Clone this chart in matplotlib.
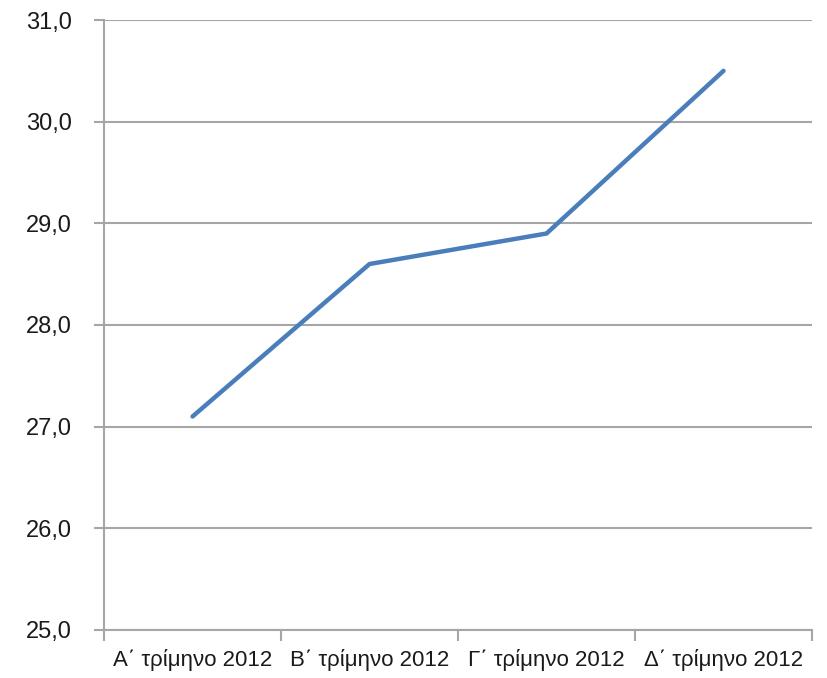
import numpy as np
import matplotlib.pyplot as plt

quarters = ["Α΄ τρίμηνο 2012", "Β΄ τρίμηνο 2012", "Γ΄ τρίμηνο 2012", "Δ΄ τρίμηνο 2012"]
values = [27.1, 28.6, 28.9, 30.5]
y_ticks = [25, 26, 27, 28, 29, 30, 31]

grey = "#a6a6a6"

fig = plt.figure(figsize=(8.27, 6.78), dpi=100)
ax = fig.add_axes([0.1258, 0.0708, 0.8561, 0.8997])

x = np.arange(len(quarters))
ax.plot(x, values, color="#4a7ebb", linewidth=3.2, solid_capstyle="round")

ax.set_xlim(-0.5, len(quarters) - 0.5)
ax.set_ylim(25, 31)
ax.set_yticks(y_ticks)
ax.set_yticklabels([f"{v:.1f}".replace(".", ",") for v in y_ticks])
ax.yaxis.grid(True, color=grey, linewidth=1.5)
ax.set_axisbelow(True)

ax.set_xticks(x)
ax.set_xticklabels(quarters)
ax.set_xticks(np.arange(len(quarters) + 1) - 0.5, minor=True)
ax.tick_params(axis="x", which="major", length=0, pad=14)
ax.tick_params(axis="x", which="minor", length=8, width=1.5, color=grey)
ax.tick_params(axis="y", length=7, width=1.5, color=grey, pad=16)

for side in ["top", "right"]:
    ax.spines[side].set_visible(False)
for side in ["left", "bottom"]:
    ax.spines[side].set_color(grey)
    ax.spines[side].set_linewidth(1.5)

for lab in ax.get_xticklabels():
    lab.set_fontfamily("Liberation Sans")
    lab.set_fontsize(16)
    lab.set_color("#1a1a1a")
for lab in ax.get_yticklabels():
    lab.set_fontfamily("Liberation Sans")
    lab.set_fontsize(17)
    lab.set_color("#1a1a1a")

fig.savefig("out.png", dpi=100)
